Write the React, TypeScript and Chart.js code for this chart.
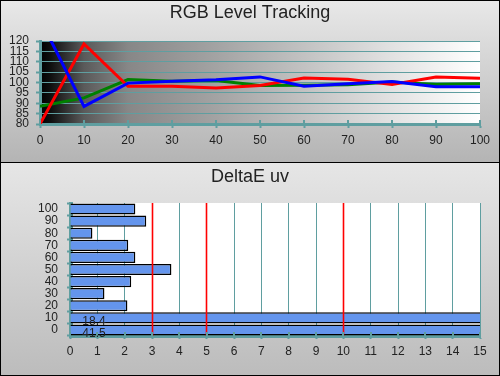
import React, { useEffect, useRef } from 'react';
import { Chart, registerables } from 'chart.js';
Chart.register(...registerables);

const topTitle = 'RGB Level Tracking';
const bottomTitle = 'DeltaE uv';
const levels = [0, 10, 20, 30, 40, 50, 60, 70, 80, 90, 100];
const redValues = [80, 118.6, 98.2, 98.2, 97.4, 98.6, 102.2, 101.6, 99, 102.7, 102];
const greenValues = [88.6, 92.6, 101.4, 100.6, 101, 98.6, 98.7, 98.9, 100.2, 99, 99.4];
const blueValues = [130.6, 88.5, 99.7, 100.6, 101.3, 102.7, 98.2, 99.4, 100.5, 97.9, 97.9];
const deltaCategories = ['100', '90', '80', '70', '60', '50', '40', '30', '20', '10', '0'];
const deltaValues = [2.39, 2.79, 0.82, 2.13, 2.39, 3.71, 2.24, 1.26, 2.1, 18.4, 41.5];
const referenceLines = [3, 5, 10];

const TEAL = '#5f9ea0';
const FONT = '"Liberation Sans", Arial, sans-serif';
const TEXT = '#222';

const topPlugin = {
  id: 'topDecor',
  beforeDraw(chart: any) {
    const { ctx, chartArea: a } = chart;
    ctx.save();
    const g = ctx.createLinearGradient(a.left, 0, a.right, 0);
    g.addColorStop(0, '#000000');
    g.addColorStop(0.025, '#101010');
    g.addColorStop(0.1, '#5a5a5a');
    g.addColorStop(0.2, '#878787');
    g.addColorStop(0.4, '#a3a3a3');
    g.addColorStop(0.6, '#c2c2c2');
    g.addColorStop(0.8, '#e2e2e2');
    g.addColorStop(1, '#ffffff');
    ctx.fillStyle = g;
    ctx.fillRect(a.left, a.top, a.right - a.left, a.bottom - a.top);
    ctx.fillStyle = TEXT;
    ctx.font = `18px ${FONT}`;
    ctx.textAlign = 'center';
    ctx.textBaseline = 'middle';
    ctx.fillText(topTitle, chart.width / 2, 13.5);
    ctx.restore();
  },
  afterDatasetsDraw(chart: any) {
    const { ctx, chartArea: a } = chart;
    const xs = chart.scales.x;
    ctx.save();
    ctx.strokeStyle = TEAL;
    ctx.lineWidth = 2;
    xs.ticks.forEach((t: any) => {
      const px = Math.round(xs.getPixelForValue(t.value));
      ctx.beginPath();
      ctx.moveTo(px, a.bottom - 4);
      ctx.lineTo(px, a.bottom);
      ctx.stroke();
    });
    ctx.restore();
  },
};

const bottomPlugin = {
  id: 'bottomDecor',
  beforeDraw(chart: any) {
    const { ctx, chartArea: a } = chart;
    ctx.save();
    ctx.fillStyle = '#ffffff';
    ctx.fillRect(a.left, a.top, a.right - a.left, a.bottom - a.top);
    ctx.fillStyle = TEXT;
    ctx.font = `18px ${FONT}`;
    ctx.textAlign = 'center';
    ctx.textBaseline = 'middle';
    ctx.fillText(bottomTitle, chart.width / 2, 14.5);
    ctx.restore();
  },
  beforeDatasetsDraw(chart: any) {
    const { ctx, chartArea: a } = chart;
    const ys = chart.scales.y;
    const half = (ys.getPixelForValue(1) - ys.getPixelForValue(0)) / 2;
    ctx.save();
    ctx.strokeStyle = TEAL;
    ctx.lineWidth = 2;
    for (let i = 0; i <= deltaCategories.length; i++) {
      const py = Math.round(ys.getPixelForValue(i) - half);
      ctx.beginPath();
      ctx.moveTo(a.left, py);
      ctx.lineTo(a.left + 3, py);
      ctx.stroke();
    }
    ctx.restore();
  },
  afterDatasetsDraw(chart: any) {
    const { ctx, chartArea: a } = chart;
    const xs = chart.scales.x;
    const ys = chart.scales.y;
    ctx.save();
    ctx.strokeStyle = '#ff0000';
    ctx.lineWidth = 1.6;
    referenceLines.forEach((v) => {
      const px = Math.round(xs.getPixelForValue(v) - 0.5) + 0.5;
      ctx.beginPath();
      ctx.moveTo(px, a.top);
      ctx.lineTo(px, a.bottom);
      ctx.stroke();
    });
    ctx.strokeStyle = TEAL;
    ctx.lineWidth = 2;
    xs.ticks.forEach((t: any) => {
      const px = Math.round(xs.getPixelForValue(t.value));
      ctx.beginPath();
      ctx.moveTo(px, a.bottom - 4);
      ctx.lineTo(px, a.bottom);
      ctx.stroke();
    });
    ctx.fillStyle = TEXT;
    ctx.font = `12px ${FONT}`;
    ctx.textAlign = 'center';
    ctx.textBaseline = 'middle';
    deltaValues.forEach((v, i) => {
      if (v > xs.max) {
        ctx.fillText(v.toFixed(1), xs.getPixelForValue(0) + 24, ys.getPixelForValue(i) + 4);
      }
    });
    ctx.restore();
  },
};

export default function App() {
  const topRef = useRef<HTMLCanvasElement>(null);
  const botRef = useRef<HTMLCanvasElement>(null);

  useEffect(() => {
    document.body.style.margin = '0';
    const tickFont = { family: FONT, size: 12 };
    const mk = (vals: number[]) => levels.map((l, i) => ({ x: l, y: vals[i] }));

    const c1 = new Chart(topRef.current as HTMLCanvasElement, {
      type: 'line',
      data: {
        datasets: [
          { data: mk(blueValues), borderColor: '#0000ff', borderWidth: 3, pointRadius: 0, tension: 0, fill: false },
          { data: mk(redValues), borderColor: '#ff0000', borderWidth: 3, pointRadius: 0, tension: 0, fill: false },
          { data: mk(greenValues), borderColor: '#008000', borderWidth: 3, pointRadius: 0, tension: 0, fill: false },
        ],
      },
      options: {
        animation: false,
        responsive: false,
        events: [],
        layout: { padding: { top: 41, right: 20, left: 0, bottom: 0 } },
        plugins: { legend: { display: false }, tooltip: { enabled: false }, title: { display: false } },
        scales: {
          x: {
            type: 'linear',
            min: 0,
            max: 100,
            afterFit: (s: any) => { s.height = 38; s.paddingLeft = 0; s.paddingRight = 0; },
            ticks: { stepSize: 10, color: TEXT, font: tickFont, padding: 5, maxRotation: 0, autoSkip: false },
            grid: { drawOnChartArea: false, color: TEAL, tickLength: 4, tickWidth: 2 },
            border: { display: true, color: TEAL, width: 3 },
          },
          y: {
            type: 'linear',
            min: 80,
            max: 120,
            afterFit: (s: any) => { s.width = 40; s.paddingTop = 0; s.paddingBottom = 0; },
            ticks: { stepSize: 5, color: TEXT, font: tickFont, padding: 7, autoSkip: false },
            grid: { color: TEAL, lineWidth: 1, tickLength: 4, tickWidth: 2 },
            border: { display: true, color: TEAL, width: 3 },
          },
        },
      },
      plugins: [topPlugin],
    } as any);

    const c2 = new Chart(botRef.current as HTMLCanvasElement, {
      type: 'bar',
      data: {
        labels: deltaCategories,
        datasets: [
          {
            data: deltaValues,
            backgroundColor: '#6495ed',
            borderColor: '#000000',
            borderWidth: 1.5,
            barPercentage: 0.92,
            categoryPercentage: 1,
            clip: 0,
          },
        ],
      },
      options: {
        indexAxis: 'y',
        animation: false,
        responsive: false,
        events: [],
        layout: { padding: { top: 40, right: 20, left: 0, bottom: 0 } },
        plugins: { legend: { display: false }, tooltip: { enabled: false }, title: { display: false } },
        scales: {
          x: {
            type: 'linear',
            min: 0,
            max: 15,
            afterFit: (s: any) => { s.height = 39; s.paddingLeft = 0; s.paddingRight = 0; },
            ticks: { stepSize: 1, color: TEXT, font: tickFont, padding: 5.5, maxRotation: 0, autoSkip: false },
            grid: { color: TEAL, lineWidth: 1, tickLength: 3, tickWidth: 2 },
            border: { display: true, color: TEAL, width: 3 },
          },
          y: {
            type: 'category',
            afterFit: (s: any) => { s.width = 70; s.paddingTop = 0; s.paddingBottom = 0; },
            ticks: { color: TEXT, font: tickFont, padding: 9, autoSkip: false },
            grid: { drawOnChartArea: false, color: TEAL, tickLength: 3, tickWidth: 2, offset: true },
            border: { display: true, color: TEAL, width: 3 },
          },
        },
      },
      plugins: [bottomPlugin],
    } as any);

    return () => {
      c1.destroy();
      c2.destroy();
    };
  }, []);

  return (
    <div
      style={{
        position: 'absolute',
        left: 0,
        top: 0,
        width: 500,
        height: 376,
        boxSizing: 'border-box',
        border: '1px solid #000',
        overflow: 'hidden',
      }}
    >
      <div style={{ position: 'absolute', left: 0, top: 0, width: 498, height: 161, background: 'linear-gradient(#e8e8e8, #b4b4b4)' }} />
      <div style={{ position: 'absolute', left: 0, top: 161, width: 498, height: 1, background: '#000' }} />
      <div style={{ position: 'absolute', left: 0, top: 162, width: 498, height: 212, background: 'linear-gradient(#e6e6e6, #bcbcbc)' }} />
      <canvas ref={topRef} width={500} height={162} style={{ position: 'absolute', left: -1, top: -1 }} />
      <canvas ref={botRef} width={500} height={212} style={{ position: 'absolute', left: -1, top: 162 }} />
    </div>
  );
}
